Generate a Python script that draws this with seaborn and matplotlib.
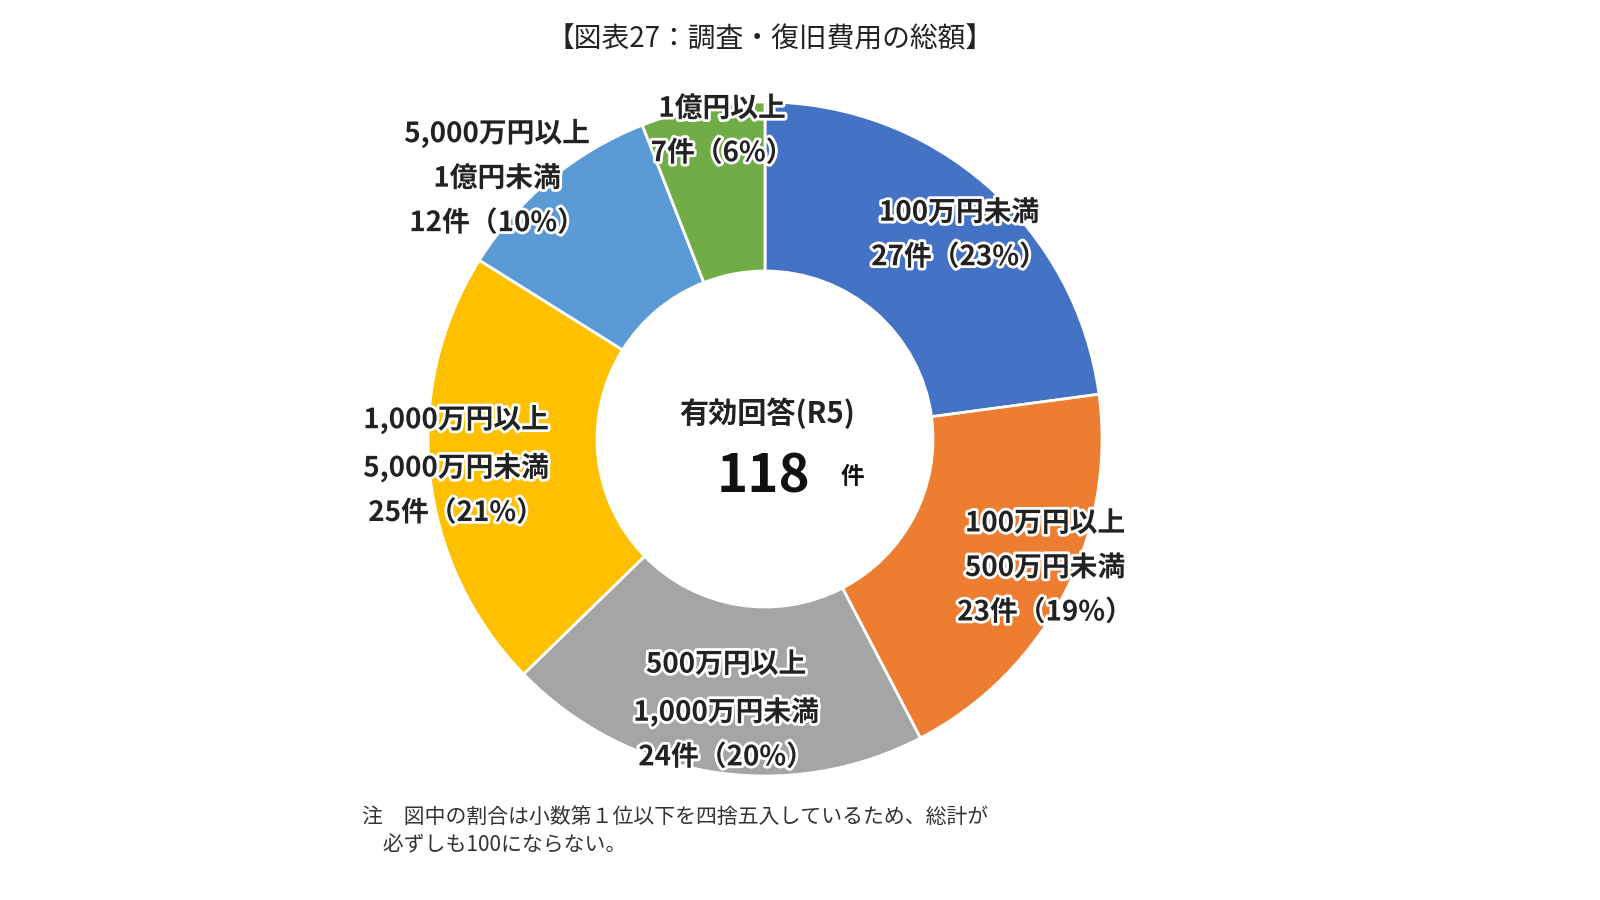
import matplotlib.pyplot as plt
import matplotlib.patheffects as pe
import seaborn as sns

# data
categories = ["100万円未満", "100万円以上\n500万円未満", "500万円以上\n1,000万円未満",
              "1,000万円以上\n5,000万円未満", "5,000万円以上\n1億円未満", "1億円以上"]
counts = [27, 23, 24, 25, 12, 7]
percents = [23, 19, 20, 21, 10, 6]
colors = ["#4472C4", "#ED7D31", "#A5A5A5", "#FFC000", "#5B9BD5", "#70AD47"]
total = 118

FONT = "Noto Sans CJK JP"
sns.set_theme(style="white", rc={"font.family": FONT})

fig = plt.figure(figsize=(16, 9), dpi=100)
ax = fig.add_axes([0, 0, 1, 1])
ax.set_xlim(0, 1600)
ax.set_ylim(0, 900)
ax.axis("off")

cx, cy, r_out, r_in = 765, 461, 337, 168
ax.pie(counts, colors=colors, startangle=90, counterclock=False,
       center=(cx, cy), radius=r_out, frame=True,
       wedgeprops=dict(width=r_out - r_in, edgecolor="white", linewidth=2))
ax.set_xlim(0, 1600)
ax.set_ylim(0, 900)
ax.axis("off")

label_pos = [(959, 665), (1045, 332), (726, 189), (456, 434), (497, 722), (722, 769)]
outline = [pe.withStroke(linewidth=4, foreground="white")]
for cat, n, p, (x, y) in zip(categories, counts, percents, label_pos):
    ax.text(x, y, f"{cat}\n{n}件（{p}%）", ha="center", va="center", fontsize=20,
            fontweight="bold", color="#222222", linespacing=1.75, path_effects=outline)

ax.text(767, 487, "有効回答(R5)", ha="center", va="center", fontsize=21, fontweight="bold", color="#222222")
ax.text(763, 423, str(total), ha="center", va="center", fontsize=38, fontweight="bold", color="#111111")
ax.text(852, 423, "件", ha="center", va="center", fontsize=17, fontweight="bold", color="#111111")

ax.text(770, 861, "【図表27：調査・復旧費用の総額】", ha="center", va="center", fontsize=20, color="#222222")
ax.text(362, 69, "注　図中の割合は小数第１位以下を四捨五入しているため、総計が\n　必ずしも100にならない。",
        ha="left", va="center", fontsize=15, color="#333333", linespacing=1.4)

fig.savefig("out.png", dpi=100)
